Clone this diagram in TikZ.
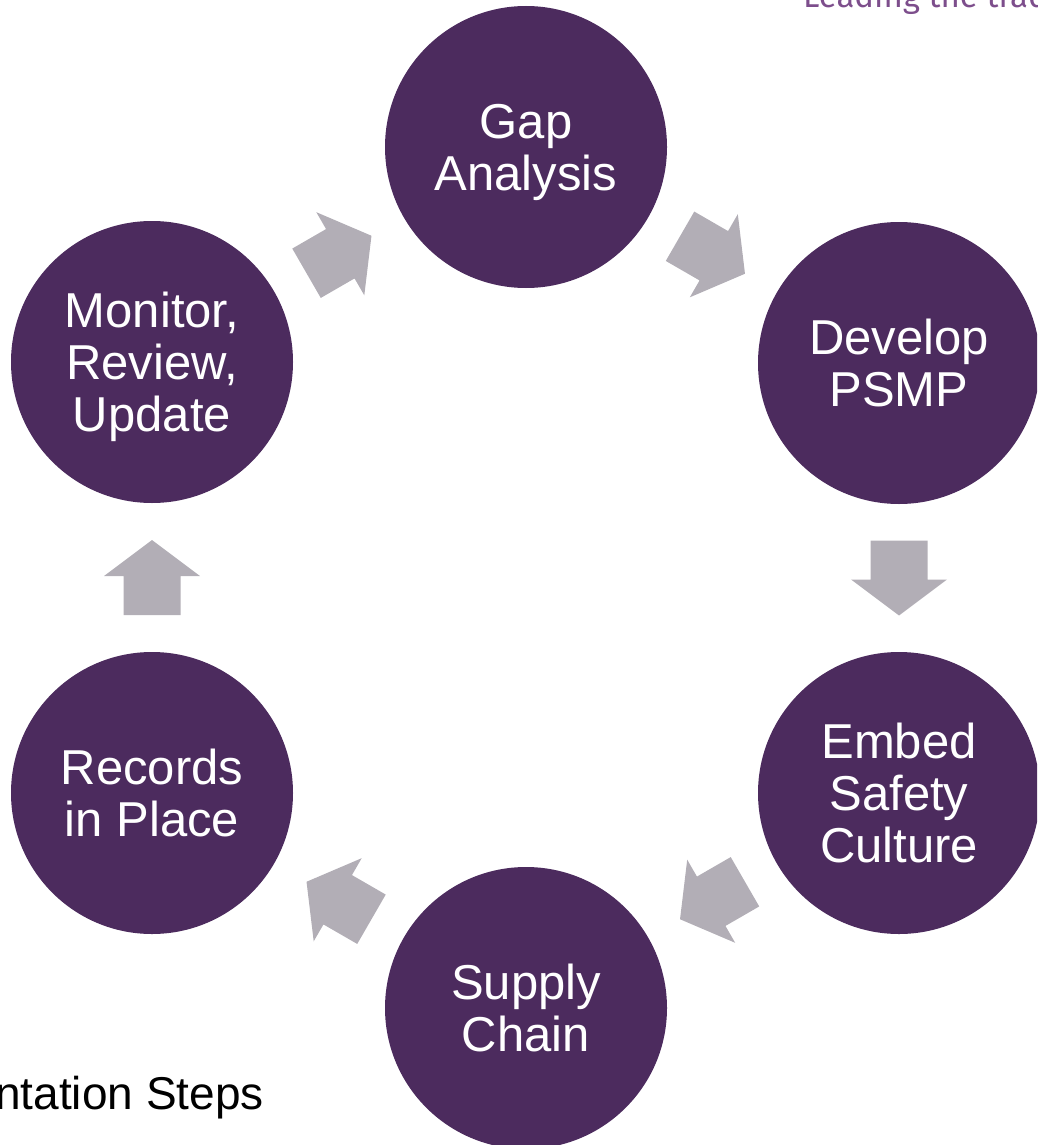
\documentclass[tikz,border=0pt]{standalone}
\usepackage{fontspec}
\setmainfont{Liberation Sans}
\newfontfamily\tagfont{Fira Sans}
\usetikzlibrary{calc}
\definecolor{stepPurple}{HTML}{4C2B5E}
\definecolor{arrowGray}{HTML}{B2AEB6}
\definecolor{tagPurple}{HTML}{7D4E8C}
\tikzset{
  stepcircle/.style={circle, fill=stepPurple, draw=none, minimum size=282pt, inner sep=0pt,
    text=white, align=center, text depth=0pt, font=\fontsize{49}{52}\selectfont},
  pics/blockarrow/.style={code={
    \fill[arrowGray] (-37.5,-28.5) -- (1.5,-28.5) -- (1.5,-48) -- (37.5,0) -- (1.5,48) -- (1.5,28.5) -- (-37.5,28.5) -- cycle;
  }}
}
\begin{document}
\begin{tikzpicture}[x=1pt,y=-1pt]
\useasboundingbox (0,0) rectangle (1037,1145);
\clip (0,0) rectangle (1037,1145);
\node[anchor=base west, text=tagPurple, font=\tagfont\fontsize{33}{35}\selectfont, inner sep=0pt] (tag) at (803,8) {Leading the trade};
\node[anchor=base east, font=\fontsize{46}{50}\selectfont, inner sep=0pt] (title) at (264,1109) {Implementation Steps};
\node[stepcircle] (gap) at (526,147) {Gap\\Analysis};
\node[stepcircle] (psmp) at (899,363) {Develop\\PSMP};
\node[stepcircle] (embed) at (899,793) {Embed\\Safety\\Culture};
\node[stepcircle] (supply) at (526,1008) {Supply\\Chain};
\node[stepcircle] (records) at (152,793) {Records\\in Place};
\node[stepcircle] (monitor) at (152,362) {Monitor,\\Review,\\Update};
\pic[rotate=30] at ($(monitor)!0.5!(gap)$) {blockarrow};
\pic[rotate=-30] at ($(gap)!0.5!(psmp)$) {blockarrow};
\pic[rotate=-90] at ($(psmp)!0.5!(embed)$) {blockarrow};
\pic[rotate=-150] at ($(embed)!0.5!(supply)$) {blockarrow};
\pic[rotate=150] at ($(supply)!0.5!(records)$) {blockarrow};
\pic[rotate=90] at ($(records)!0.5!(monitor)$) {blockarrow};
\end{tikzpicture}
\end{document}
